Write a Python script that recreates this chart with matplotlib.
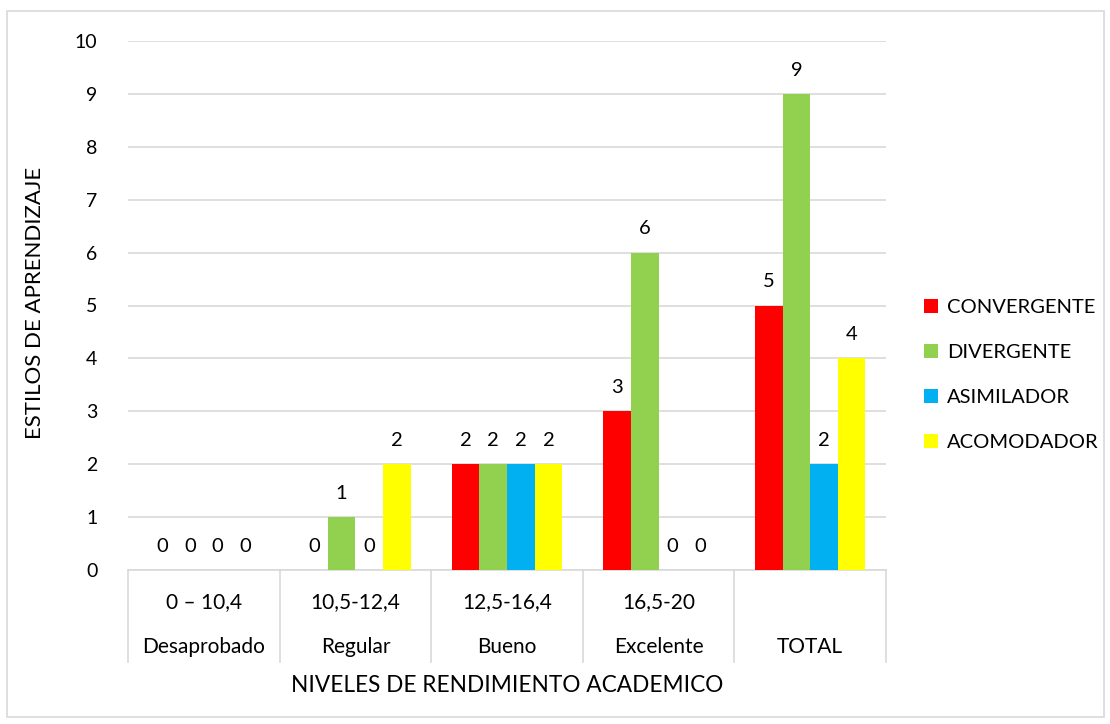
import numpy as np
import matplotlib as mpl
import matplotlib.pyplot as plt
from matplotlib.patches import Rectangle
from matplotlib.transforms import blended_transform_factory

plt.rcParams['font.family'] = ['Lato', 'DejaVu Sans']

# data
rangos = ['0 – 10,4', '10,5-12,4', '12,5-16,4', '16,5-20', '']
niveles = ['Desaprobado', 'Regular', 'Bueno', 'Excelente', 'TOTAL']
series = ['CONVERGENTE', 'DIVERGENTE', 'ASIMILADOR', 'ACOMODADOR']
convergente = [0, 0, 2, 3, 5]
divergente = [0, 1, 2, 6, 9]
asimilador = [0, 0, 2, 0, 2]
acomodador = [0, 2, 2, 0, 4]
colores = ['#ff0000', '#92d050', '#00b0f0', '#ffff00']

valores = [convergente, divergente, asimilador, acomodador]

W, H = 1110, 724
fig = plt.figure(figsize=(W / 100, H / 100), dpi=100)
fig.patches.append(Rectangle((7 / W, 7 / H), 1097 / W, 706 / H, transform=fig.transFigure,
                             fill=False, edgecolor='#d9d9d9', linewidth=1.2))

x0, x1, y0, y1 = 128, 886, 570, 41
ax = fig.add_axes([x0 / W, 1 - y0 / H, (x1 - x0) / W, (y0 - y1) / H])

x = np.arange(len(niveles))
bw = 0.182
for i, (nom, vals, col) in enumerate(zip(series, valores, colores)):
    pos = x + (i - 1.5) * bw
    bars = ax.bar(pos, vals, width=bw, color=col, label=nom, zorder=3)
    ax.bar_label(bars, labels=[str(v) for v in vals], padding=11, fontsize=14.5)

ax.set_xlim(-0.5, len(niveles) - 0.5)
ax.set_ylim(0, 10)
ax.set_yticks(range(0, 11))
ax.tick_params(axis='y', length=0, labelsize=14, pad=22)
ax.set_xticks([])
ax.grid(axis='y', color='#d9d9d9', linewidth=1.2, zorder=0)
for s in ['top', 'right', 'left']:
    ax.spines[s].set_visible(False)
ax.spines['bottom'].set_color('#d9d9d9')
ax.spines['bottom'].set_linewidth(1.2)

# multi-level category axis
tr = blended_transform_factory(ax.transData, ax.transAxes)
h = y0 - y1
low = -(662 - y0) / h
for b in np.arange(len(niveles) + 1) - 0.5:
    ax.plot([b, b], [0, low], transform=tr, color='#d9d9d9', linewidth=1.2, clip_on=False)
for xi, r, n in zip(x, rangos, niveles):
    ax.text(xi, -(602 - y0) / h, r, transform=tr, ha='center', va='center', fontsize=15)
    ax.text(xi, -(647 - y0) / h, n, transform=tr, ha='center', va='center', fontsize=15)

ax.text(0.5, -(686 - y0) / h, 'NIVELES DE RENDIMIENTO ACADEMICO', transform=ax.transAxes,
        ha='center', va='center', fontsize=16.3)
fig.text(35 / W, 1 - 303 / H, 'ESTILOS DE APRENDIZAJE', rotation=90,
         ha='center', va='center', fontsize=16)

ax.legend(loc='center left', bbox_to_anchor=(906 / W, 1 - 375 / H), bbox_transform=fig.transFigure,
          frameon=False, fontsize=14.5, handlelength=0.7, handleheight=0.7,
          handletextpad=0.45, labelspacing=1.4)

fig.savefig('out.png', dpi=100)
